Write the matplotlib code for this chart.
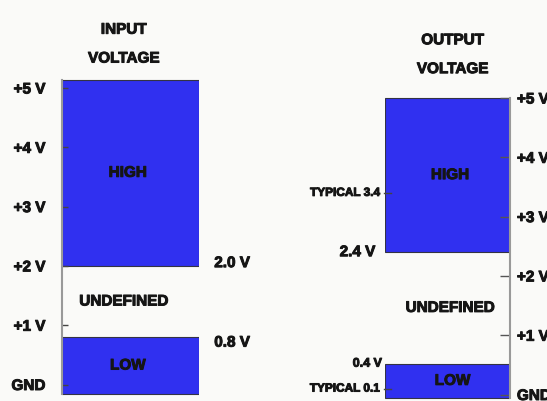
import matplotlib
matplotlib.use("Agg")
import matplotlib.pyplot as plt
import matplotlib.patheffects as pe

plt.rcParams['font.family'] = ['Liberation Sans', 'DejaVu Sans']
plt.rcParams['font.weight'] = 'bold'

# voltage levels (volts)
tick_values = [0, 1, 2, 3, 4, 5]
tick_labels = ['GND', '+1 V', '+2 V', '+3 V', '+4 V', '+5 V']

# band edges (bottom, top)
band_names = ['LOW', 'UNDEFINED', 'HIGH']
input_bands = [(-0.16, 0.8), (0.8, 2.0), (2.0, 5.14)]
output_bands = [(-0.06, 0.52), (0.52, 2.4), (2.4, 5.0)]
input_marks = [2.0, 0.8]
input_mark_labels = ['2.0 V', '0.8 V']
output_typical = [3.4, 0.1]
output_typical_labels = ['TYPICAL 3.4', 'TYPICAL 0.1']
output_marks = [2.4, 0.52]
output_mark_labels = ['2.4 V', '0.4 V']

BLUE = '#3030f0'
BG = '#fafaf8'
INK = '#151515'
W, H = 547, 401
PX_PER_V = 59.3
YLIM = (-0.3, 5.3)
HEAVY = [pe.withStroke(linewidth=0.7, foreground=INK)]

fig = plt.figure(figsize=(W / 100, H / 100), dpi=100, facecolor=BG)


def make_axes(x0, x1, zero_px):
    bottom = H - (zero_px - YLIM[0] * PX_PER_V)
    height = (YLIM[1] - YLIM[0]) * PX_PER_V
    ax = fig.add_axes([x0 / W, bottom / H, (x1 - x0) / W, height / H])
    ax.set_xlim(0, 1)
    ax.set_ylim(*YLIM)
    ax.patch.set_visible(False)
    for s in ax.spines.values():
        s.set_visible(False)
    ax.set_xticks([])
    return ax


def draw_bands(ax, bands, label_x):
    for name, (lo, hi), lx in zip(band_names, bands, label_x):
        if name != 'UNDEFINED':
            ax.bar(0.5, hi - lo, bottom=lo, width=1, color=BLUE,
                   edgecolor='#333344', linewidth=0.8, zorder=1)
        ax.text(lx, (lo + hi) / 2, name, ha='center', va='center',
                fontsize=11, color=INK, zorder=3, path_effects=HEAVY)


def heavy_ticklabels(ax):
    for lab in ax.get_yticklabels():
        lab.set_path_effects(HEAVY)


# ---- input side
ax1 = make_axes(62, 199, 384.5)
draw_bands(ax1, input_bands, [0.48, 0.45, 0.48])
ax1.spines['left'].set_visible(True)
ax1.spines['left'].set_color('#999999')
ax1.spines['left'].set_linewidth(1.5)
ax1.spines['left'].set_bounds(input_bands[0][0], input_bands[-1][1])
ax1.set_yticks(tick_values, tick_labels)
ax1.tick_params(axis='y', direction='in', length=4, width=1, color='#444444',
                pad=12, labelsize=11, labelcolor=INK)
heavy_ticklabels(ax1)
ax1.text(0.45, 5.74, 'INPUT\nVOLTAGE', ha='center', va='center',
         fontsize=11, linespacing=2.35, color=INK, path_effects=HEAVY)
for v, lab, dy in zip(input_marks, input_mark_labels, [2, -4]):
    ax1.annotate(lab, xy=(1, v), xycoords=('axes fraction', 'data'),
                 xytext=(11, dy), textcoords='offset points',
                 ha='left', va='center', fontsize=11, color=INK,
                 path_effects=HEAVY)

# ---- output side
ax2 = make_axes(385, 510, 394.5)
draw_bands(ax2, output_bands, [0.54, 0.52, 0.52])
ax2.spines['right'].set_visible(True)
ax2.spines['right'].set_color('#999999')
ax2.spines['right'].set_linewidth(1.5)
ax2.spines['right'].set_bounds(output_bands[0][0], output_bands[-1][1])
ax2.yaxis.tick_right()
ax2.set_yticks(tick_values, tick_labels)
ax2.tick_params(axis='y', direction='in', length=7, width=1, color='#555555',
                pad=5, labelsize=11, labelcolor=INK)
heavy_ticklabels(ax2)
ax2.text(0.54, 5.73, 'OUTPUT\nVOLTAGE', ha='center', va='center',
         fontsize=11, linespacing=2.35, color=INK, path_effects=HEAVY)
for v, lab in zip(output_typical, output_typical_labels):
    ax2.plot([-0.01, 0.05], [v, v], color='#444444', lw=1, clip_on=False, zorder=2)
    ax2.annotate(lab, xy=(0, v), xycoords=('axes fraction', 'data'),
                 xytext=(-4, 0), textcoords='offset points',
                 ha='right', va='center', fontsize=8.5, color=INK,
                 path_effects=HEAVY)
ax2.annotate(output_mark_labels[0], xy=(0, output_marks[0]),
             xycoords=('axes fraction', 'data'), xytext=(-7, 0),
             textcoords='offset points', ha='right', va='center',
             fontsize=11, color=INK, path_effects=HEAVY)
ax2.annotate(output_mark_labels[1], xy=(0, output_marks[1]),
             xycoords=('axes fraction', 'data'), xytext=(-2, 0),
             textcoords='offset points', ha='right', va='center',
             fontsize=9, color=INK, path_effects=HEAVY)

fig.savefig('out.png', dpi=100, facecolor=BG)
